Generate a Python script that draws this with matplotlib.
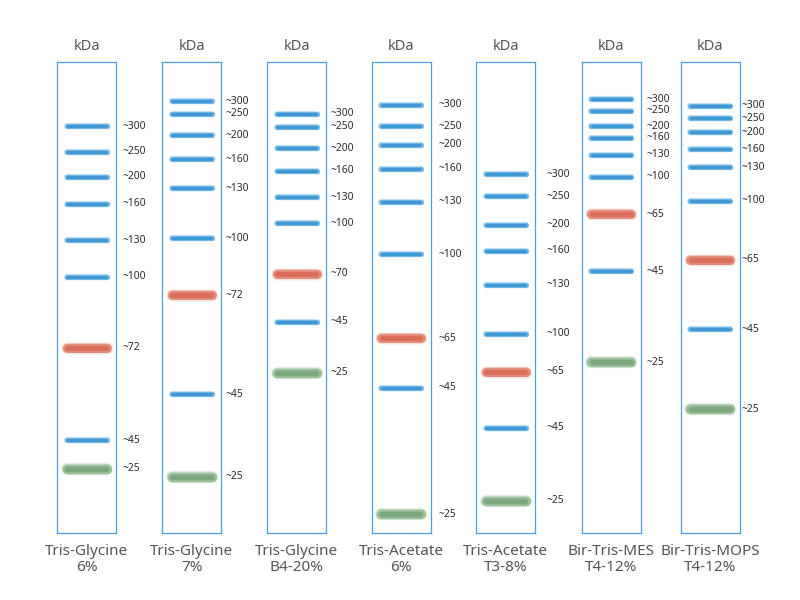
import matplotlib
matplotlib.use("Agg")
import matplotlib.pyplot as plt
from matplotlib.transforms import blended_transform_factory

plt.rcParams['font.family'] = ['Noto Sans', 'DejaVu Sans']

# gel names (two-line captions under each lane)
gels = ["Tris-Glycine\n6%", "Tris-Glycine\n7%", "Tris-Glycine\nB4-20%",
        "Tris-Acetate\n6%", "Tris-Acetate\nT3-8%", "Bir-Tris-MES\nT4-12%",
        "Bir-Tris-MOPS\nT4-12%"]

# marker sizes (kDa) per lane, top to bottom
kda_1 = [300, 250, 200, 160, 130, 100, 72, 45, 25]
kda_2 = [300, 250, 200, 160, 130, 100, 72, 45, 25]
kda_3 = [300, 250, 200, 160, 130, 100, 70, 45, 25]
kda_4 = [300, 250, 200, 160, 130, 100, 65, 45, 25]
kda_5 = [300, 250, 200, 160, 130, 100, 65, 45, 25]
kda_6 = [300, 250, 200, 160, 130, 100, 65, 45, 25]
kda_7 = [300, 250, 200, 160, 130, 100, 65, 45, 25]

# migration distance, % of lane length
mig_1 = [13.6, 19.1, 24.4, 30.1, 37.8, 45.6, 60.7, 80.3, 86.4]
mig_2 = [8.3, 11.0, 15.5, 20.6, 26.8, 37.4, 49.5, 70.5, 88.1]
mig_3 = [11.0, 13.8, 18.3, 23.1, 28.7, 34.2, 45.0, 55.2, 66.0]
mig_4 = [9.1, 13.6, 17.6, 22.7, 29.7, 40.8, 58.6, 69.2, 96.0]
mig_5 = [23.8, 28.5, 34.6, 40.1, 47.3, 57.7, 65.8, 77.7, 93.2]
mig_6 = [7.9, 10.4, 13.6, 16.1, 19.7, 24.4, 32.3, 44.4, 63.7]
mig_7 = [9.3, 11.9, 14.9, 18.5, 22.3, 29.5, 42.0, 56.7, 73.7]

# band type: b = blue, r = red reference band, g = green
kind = ['b', 'b', 'b', 'b', 'b', 'b', 'r', 'b', 'g']

kdas = [kda_1, kda_2, kda_3, kda_4, kda_5, kda_6, kda_7]
migs = [mig_1, mig_2, mig_3, mig_4, mig_5, mig_6, mig_7]

# layout (pixels of the 800x600 canvas)
lefts = [57.3, 162.3, 267.3, 371.5, 476.3, 581.7, 680.7]
label_gap = [6, 4, 4, 8, 11, 6, 2]
lane_w, top, bottom = 59, 62, 533

band_style = {
    'b': dict(outer='#5eaee2', core='#1f82c8', w=3.6),
    'r': dict(outer='#e0806d', core='#d45a45', w=6.4),
    'g': dict(outer='#8fb890', core='#6a9a6d', w=6.8),
}

fig = plt.figure(figsize=(8, 6), dpi=100)

for i in range(7):
    ax = fig.add_axes([lefts[i] / 800, 1 - bottom / 600, lane_w / 800, (bottom - top) / 600])
    ax.set_xlim(0, 1)
    ax.set_ylim(100, 0)
    ax.set_xticks([])
    ax.set_yticks([])
    for s in ax.spines.values():
        s.set_color('#4d9ee6')
        s.set_linewidth(0.9)

    tr = blended_transform_factory(ax.transAxes, ax.transData)
    for k, y, t in zip(kdas[i], migs[i], kind):
        st = band_style[t]
        # soft halo + darker core to mimic a blurred band
        for f, a in [(1.45, 0.08), (1.25, 0.14), (1.1, 0.3)]:
            ax.plot([0.16, 0.84], [y, y], color=st['outer'], lw=st['w'] * f,
                    alpha=a, solid_capstyle='round')
        ax.plot([0.16, 0.84], [y, y], color=st['outer'], lw=st['w'],
                alpha=0.85, solid_capstyle='round')
        ax.plot([0.17, 0.83], [y, y], color=st['core'], lw=st['w'] * 0.55,
                alpha=0.6, solid_capstyle='round')
        ax.annotate(f"~{k}", xy=(1, y), xycoords=tr,
                    xytext=(label_gap[i] / 1.389, 0), textcoords='offset points',
                    va='center', ha='left', fontsize=7.4, color='#2b2b2b',
                    annotation_clip=False)

    ax.text(0.5, 1.0 + 16 / 471, "kDa", transform=ax.transAxes, ha='center',
            va='center', fontsize=10.5, color='#555555')
    ax.text(0.5, -11 / 471, gels[i], transform=ax.transAxes, ha='center',
            va='top', fontsize=11, color='#555555', linespacing=1.1)

fig.savefig("out.png", dpi=100, facecolor='white')
